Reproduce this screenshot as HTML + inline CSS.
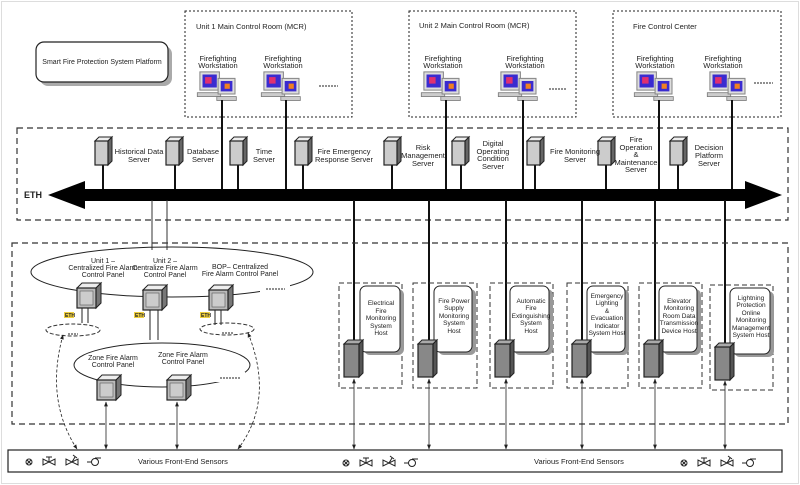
<!DOCTYPE html>
<html><head><meta charset="utf-8"><style>
body{margin:0;background:#fff}
svg{display:block;font-family:"Liberation Sans",sans-serif}
text{fill:#222}
</style></head><body>
<svg width="800" height="485" viewBox="0 0 800 485" xmlns="http://www.w3.org/2000/svg">
<defs>
<g id="ws0">
 <rect x="-17" y="-27" width="15" height="14" fill="#ddd" stroke="#888" stroke-width="0.8"/>
 <rect x="-15" y="-25" width="11" height="10" fill="#3a2bd0"/><rect x="-13" y="-23" width="5" height="5" fill="#e03070"/>
 <rect x="-19" y="-11" width="18" height="3" fill="#ccc" stroke="#777" stroke-width="0.6"/>
 <rect x="-3" y="-22" width="13" height="12" fill="#ddd" stroke="#888" stroke-width="0.8"/>
 <rect x="-1" y="-20" width="9" height="8" fill="#3a2bd0"/><rect x="2" y="-18" width="4" height="4" fill="#f08020"/>
 <rect x="-4" y="-8" width="15" height="3" fill="#ccc" stroke="#777" stroke-width="0.6"/>
</g>
<g id="ws"><use href="#ws0" transform="scale(1.3)"/></g>
<g id="srv">
 <polygon points="0,4 4,0 17,0 13,4" fill="#eee" stroke="#222" stroke-width="1"/>
 <polygon points="13,4 17,0 17,24 13,28" fill="#666" stroke="#222" stroke-width="1"/>
 <rect x="0" y="4" width="13" height="24" fill="#ccc" stroke="#222" stroke-width="1.2"/>
</g>
<g id="pnl">
 <polygon points="0,5 5,0 24,0 19,5" fill="#eee" stroke="#222"/>
 <polygon points="19,5 24,0 24,20 19,25" fill="#777" stroke="#222"/>
 <rect x="0" y="5" width="19" height="20" fill="#bbb" stroke="#222" stroke-width="1.2"/>
 <rect x="3" y="8" width="13" height="14" fill="#ccc" stroke="#555" stroke-width="0.6"/>
</g>
<g id="dev">
 <polygon points="0,4 4,0 19,0 15,4" fill="#aaa" stroke="#222"/>
 <polygon points="15,4 19,0 19,33 15,37" fill="#555" stroke="#222"/>
 <rect x="0" y="4" width="15" height="33" fill="#888" stroke="#222" stroke-width="1.2"/>
</g>
<g id="sens" fill="none" stroke="#222" stroke-width="1">
 <circle cx="0" cy="0" r="3"/><path d="M-2,-2 L2,2 M-2,2 L2,-2"/>
 <path d="M14,-3 L14,3 L26,-3 L26,3 Z M20,0 L20,-5 M17,-5 L23,-5"/>
 <path d="M37,-3 L37,3 L49,-3 L49,3 Z M43,0 L46,-5 M44,-7 L48,-4"/>
 <circle cx="66" cy="0" r="3.5"/><path d="M58,0 L62,0 M66,-4 L72,-4"/>
</g>
<marker id="ah" viewBox="0 0 10 10" refX="9" refY="5" markerWidth="6" markerHeight="6" orient="auto-start-reverse"><path d="M0,1 L10,5 L0,9 Z" fill="#222"/></marker>
</defs>

<rect x="1.5" y="1.5" width="797" height="482" fill="#fff" stroke="#bbb" stroke-dasharray="1 1"/>

<rect x="40" y="46" width="132" height="40" rx="8" fill="#aaa"/>
<rect x="36" y="42" width="132" height="40" rx="8" fill="#fff" stroke="#222" stroke-width="1.2"/>
<text x="102" y="64" font-size="7" text-anchor="middle">Smart Fire Protection System Platform</text>

<g fill="none" stroke="#222" stroke-dasharray="2 2">
<rect x="185" y="11" width="167" height="106"/>
<rect x="409" y="11" width="167" height="106"/>
<rect x="613" y="11" width="168" height="106"/>
</g>
<g font-size="7.5">
<text x="196" y="29">Unit 1 Main Control Room (MCR)</text>
<text x="419" y="28">Unit 2 Main Control Room (MCR)</text>
<text x="633" y="29">Fire Control Center</text>
</g>
<g font-size="7.5" text-anchor="middle">
<text x="218" y="61">Firefighting</text><text x="218" y="68">Workstation</text>
<text x="283" y="61">Firefighting</text><text x="283" y="68">Workstation</text>
<text x="443" y="61">Firefighting</text><text x="443" y="68">Workstation</text>
<text x="525" y="61">Firefighting</text><text x="525" y="68">Workstation</text>
<text x="655" y="61">Firefighting</text><text x="655" y="68">Workstation</text>
<text x="723" y="61">Firefighting</text><text x="723" y="68">Workstation</text>
</g>
<use href="#ws" x="222" y="107"/><use href="#ws" x="286" y="107"/>
<use href="#ws" x="446" y="107"/><use href="#ws" x="523" y="107"/>
<use href="#ws" x="659" y="107"/><use href="#ws" x="732" y="107"/>
<g stroke="#222" stroke-width="1" stroke-dasharray="2 1">
<path d="M319,86 H338 M549,89 H567 M754,83 H773"/>
</g>

<rect x="17" y="128" width="771" height="92" fill="none" stroke="#333" stroke-width="1.2" stroke-dasharray="6 4"/>

<g stroke="#111" stroke-width="2">
<path d="M222,100 V190 M286,100 V190 M446,100 V190 M523,100 V190 M659,100 V190 M732,100 V190"/>
<path d="M103,165 V190 M175,165 V190 M238,165 V190 M303,165 V190 M392,165 V190 M461,165 V190 M535,165 V190 M606,165 V190 M678,165 V190"/>
</g>
<use href="#srv" x="95" y="137"/><use href="#srv" x="166" y="137"/><use href="#srv" x="230" y="137"/>
<use href="#srv" x="295" y="137"/><use href="#srv" x="384" y="137"/><use href="#srv" x="452" y="137"/>
<use href="#srv" x="527" y="137"/><use href="#srv" x="598" y="137"/><use href="#srv" x="670" y="137"/>
<g font-size="7.5" text-anchor="middle">
<text x="139" y="154">Historical Data</text><text x="139" y="162">Server</text>
<text x="203" y="154">Database</text><text x="203" y="162">Server</text>
<text x="264" y="154">Time</text><text x="264" y="162">Server</text>
<text x="344" y="154">Fire Emergency</text><text x="344" y="162">Response Server</text>
<text x="423" y="150">Risk</text><text x="423" y="158">Management</text><text x="423" y="166">Server</text>
<text x="493" y="146">Digital</text><text x="493" y="154">Operating</text><text x="493" y="161">Condition</text><text x="493" y="169">Server</text>
<text x="575" y="154">Fire Monitoring</text><text x="575" y="162">Server</text>
<text x="636" y="142">Fire</text><text x="636" y="150">Operation</text><text x="636" y="157">&amp;</text><text x="636" y="165">Maintenance</text><text x="636" y="172">Server</text>
<text x="709" y="150">Decision</text><text x="709" y="158">Platform</text><text x="709" y="166">Server</text>
</g>

<polygon points="48,195 85,181 85,189 745,189 745,181 782,195 745,209 745,201 85,201 85,209" fill="#000"/>
<text x="24" y="198" font-size="9" font-weight="bold" fill="#000">ETH</text>

<g stroke="#333" stroke-width="1">
<path d="M152,200 V250 M167,200 V250"/>
</g>
<g stroke="#111" stroke-width="2">
<path d="M354,200 V341 M429,200 V341 M506,200 V341 M582,200 V341 M655,200 V341 M725,200 V344"/>
</g>

<rect x="12" y="243" width="776" height="181" fill="none" stroke="#333" stroke-width="1.2" stroke-dasharray="6 4"/>

<ellipse cx="172" cy="272" rx="141" ry="25" fill="none" stroke="#222" stroke-width="1"/>
<rect x="260" y="284" width="30" height="8" fill="#fff"/>
<g font-size="7" text-anchor="middle">
<text x="103" y="263">Unit 1 –</text><text x="103" y="270">Centralized Fire Alarm</text><text x="103" y="277">Control Panel</text>
<text x="165" y="263">Unit 2 –</text><text x="165" y="270">Centralize Fire Alarm</text><text x="165" y="277">Control Panel</text>
<text x="240" y="269">BOP– Centralized</text><text x="240" y="276">Fire Alarm Control Panel</text>
</g>
<path d="M266,289 H285" stroke="#222" stroke-dasharray="2 1"/>
<g stroke="#222" stroke-width="1">
<path d="M82,305 V323 M88,305 V323 M150,307 V340 M158,307 V340 M215,307 V325 M221,307 V325"/>
</g>
<use href="#pnl" x="77" y="283"/><use href="#pnl" x="143" y="285"/><use href="#pnl" x="209" y="285"/>
<g font-size="5" font-weight="bold">
<rect x="64" y="312" width="10" height="6" fill="#f0d040"/><text x="65" y="317" fill="#126">ETH</text>
<rect x="134" y="312" width="10" height="6" fill="#f0d040"/><text x="135" y="317" fill="#126">ETH</text>
<rect x="200" y="312" width="10" height="6" fill="#f0d040"/><text x="201" y="317" fill="#126">ETH</text>
</g>
<g fill="none" stroke="#333" stroke-dasharray="4 2">
<ellipse cx="73" cy="330" rx="27" ry="6"/>
<ellipse cx="227" cy="329" rx="27" ry="6"/>
</g>
<path d="M68,334 H78 M222,333 H234" stroke="#222" stroke-dasharray="2 1"/>

<ellipse cx="162" cy="365" rx="88" ry="22" fill="none" stroke="#222"/>
<rect x="215" y="372" width="30" height="10" fill="#fff"/>
<path d="M220,378 H241" stroke="#222" stroke-dasharray="2 1"/>
<g font-size="7" text-anchor="middle">
<text x="113" y="360">Zone Fire Alarm</text><text x="113" y="367">Control Panel</text>
<text x="183" y="357">Zone Fire Alarm</text><text x="183" y="364">Control Panel</text>
</g>
<use href="#pnl" x="97" y="375"/><use href="#pnl" x="167" y="375"/>

<g stroke="#222" stroke-width="0.8" fill="none" marker-start="url(#ah)" marker-end="url(#ah)">
<path d="M106,402 V449"/><path d="M177,402 V449"/>
<path d="M354,379 V449"/><path d="M429,379 V449"/><path d="M506,379 V449"/>
<path d="M582,379 V449"/><path d="M655,379 V449"/><path d="M725,381 V449"/>
</g>
<g stroke="#222" stroke-width="0.8" fill="none" stroke-dasharray="3 2" marker-start="url(#ah)" marker-end="url(#ah)">
<path d="M63,335 Q45,400 77,449"/>
<path d="M248,333 Q275,400 238,449"/>
</g>

<g>
<g fill="none" stroke="#333" stroke-dasharray="5 3">
<rect x="339" y="283" width="63" height="105"/>
<rect x="413" y="283" width="64" height="105"/>
<rect x="490" y="283" width="63" height="105"/>
<rect x="567" y="283" width="61" height="105"/>
<rect x="639" y="283" width="63" height="105"/>
<rect x="710" y="285" width="63" height="105"/>
</g>
<g fill="#999">
<rect x="364" y="289" width="40" height="66" rx="6"/>
<rect x="438" y="289" width="38" height="66" rx="6"/>
<rect x="514" y="289" width="39" height="66" rx="6"/>
<rect x="591" y="289" width="38" height="66" rx="6"/>
<rect x="663" y="289" width="38" height="66" rx="6"/>
<rect x="734" y="291" width="40" height="66" rx="6"/>
</g>
<g fill="#fff" stroke="#222" stroke-width="1">
<rect x="360" y="286" width="40" height="66" rx="6"/>
<rect x="434" y="286" width="38" height="66" rx="6"/>
<rect x="510" y="286" width="39" height="66" rx="6"/>
<rect x="587" y="286" width="38" height="66" rx="6"/>
<rect x="659" y="286" width="38" height="66" rx="6"/>
<rect x="730" y="288" width="40" height="66" rx="6"/>
</g>
<g font-size="6.5" text-anchor="middle">
<text x="381" y="305">Electrical</text><text x="381" y="313">Fire</text><text x="381" y="320">Monitoring</text><text x="381" y="328">System</text><text x="381" y="335">Host</text>
<text x="454" y="303">Fire Power</text><text x="454" y="310">Supply</text><text x="454" y="318">Monitoring</text><text x="454" y="325">System</text><text x="454" y="333">Host</text>
<text x="531" y="303">Automatic</text><text x="531" y="310">Fire</text><text x="531" y="318">Extinguishing</text><text x="531" y="325">System</text><text x="531" y="333">Host</text>
<text x="607" y="298">Emergency</text><text x="607" y="305">Lighting</text><text x="607" y="313">&amp;</text><text x="607" y="320">Evacuation</text><text x="607" y="328">Indicator</text><text x="607" y="335">System Host</text>
<text x="679" y="303">Elevator</text><text x="679" y="310">Monitoring</text><text x="679" y="318">Room Data</text><text x="679" y="325">Transmission</text><text x="679" y="333">Device Host</text>
<text x="751" y="300">Lightning</text><text x="751" y="307">Protection</text><text x="751" y="315">Online</text><text x="751" y="322">Monitoring</text><text x="751" y="330">Management</text><text x="751" y="337">System Host</text>
</g>
<use href="#dev" x="344" y="340"/><use href="#dev" x="418" y="340"/><use href="#dev" x="495" y="340"/>
<use href="#dev" x="572" y="340"/><use href="#dev" x="644" y="340"/><use href="#dev" x="715" y="343"/>
</g>

<rect x="8" y="450" width="774" height="22" fill="#fff" stroke="#222" stroke-width="1.2"/>
<g font-size="7.5"><text x="138" y="464">Various Front-End Sensors</text><text x="534" y="464">Various Front-End Sensors</text></g>
<use href="#sens" x="29" y="462"/><use href="#sens" x="346" y="463"/><use href="#sens" x="684" y="463"/>
</svg>
</body></html>
